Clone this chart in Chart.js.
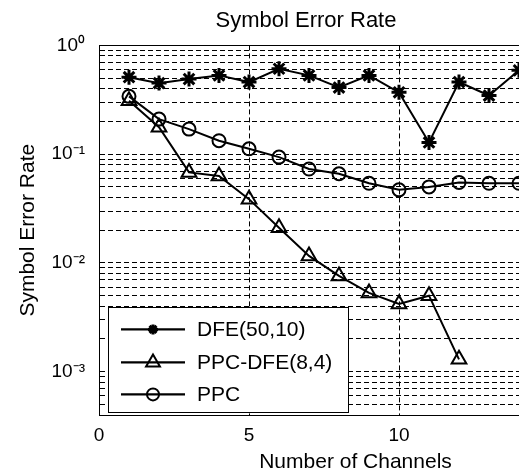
<!DOCTYPE html>
<html><head><meta charset="utf-8">
<script src="https://cdn.jsdelivr.net/npm/chart.js@4/dist/chart.umd.min.js"></script>
<style>html,body{margin:0;padding:0;background:#fff;overflow:hidden;width:519px;height:476px}</style>
</head><body>
<canvas id="c" width="612" height="476"></canvas>
<script>
const channels = [1,2,3,4,5,6,7,8,9,10,11,12,13,14];
const dfe    = [0.51,0.45,0.49,0.53,0.46,0.61,0.53,0.41,0.53,0.37,0.128,0.46,0.346,0.59];
const ppcDfe = [0.31,0.177,0.068,0.063,0.0386,0.0211,0.0116,0.0076,0.0053,0.0042,0.0050,0.0013,null,null];
const ppc    = [0.34,0.21,0.17,0.133,0.112,0.094,0.073,0.066,0.054,0.047,0.050,0.055,0.054,0.054];
const seriesNames = ['DFE(50,10)','PPC-DFE(8,4)','PPC'];
const seriesMarkers = ['star','triangle','circle'];
const xTickValues = [0,5,10,15];
const yDecades = [1e-4,1e-3,1e-2,1e-1,1];
const yMinorSteps = [2,3,4,5,6,7,8,9];
const yMin = 4e-4, yMax = 1;

const FONT = '"Liberation Sans", Arial, sans-serif';
const sup = {'0':'\u2070','1':'\u00B9','2':'\u00B2','3':'\u00B3','4':'\u2074','-':'\u207B'};

function yTickList(){
  const out = [];
  yDecades.forEach(d => {
    [1, ...yMinorSteps].forEach(k => {
      const v = +(d*k).toPrecision(6);
      if (v >= yMin*0.9999 && v <= yMax*1.0001) out.push({value: v});
    });
  });
  return out;
}

function mk(name, data, style, radius, bw){
  return {
    label: name,
    data: channels.map((c,i) => ({x: c, y: data[i]})),
    borderColor: '#000', backgroundColor: 'rgba(0,0,0,0)',
    borderWidth: 2, pointStyle: style, pointRadius: radius,
    pointBorderWidth: bw, pointBorderColor: '#000', pointBackgroundColor: 'rgba(0,0,0,0)',
    spanGaps: false, tension: 0
  };
}

function drawMarker(ctx, style, x, y, r){
  ctx.beginPath();
  if (style === 'star'){
    const d = r*Math.SQRT1_2;
    ctx.moveTo(x-r,y); ctx.lineTo(x+r,y);
    ctx.moveTo(x,y-r); ctx.lineTo(x,y+r);
    ctx.moveTo(x-d,y-d); ctx.lineTo(x+d,y+d);
    ctx.moveTo(x-d,y+d); ctx.lineTo(x+d,y-d);
  } else if (style === 'triangle'){
    const s = Math.sin(2*Math.PI/3)*r;
    ctx.moveTo(x, y-r); ctx.lineTo(x+s, y+r/2); ctx.lineTo(x-s, y+r/2); ctx.closePath();
  } else {
    ctx.arc(x, y, r, 0, Math.PI*2);
  }
  ctx.stroke();
}

const framePlugin = {
  id: 'frame',
  beforeDatasetsDraw(chart){
    const {ctx, chartArea: a} = chart;
    ctx.save(); ctx.strokeStyle = '#000'; ctx.lineWidth = 1;
    ctx.strokeRect(Math.round(a.left)+0.5, Math.round(a.top)+0.5, a.right-a.left, Math.round(a.bottom-a.top));
    ctx.restore();
  },
  afterDraw(chart){
    const {ctx, chartArea: a} = chart;
    const bx = a.left + 9, by = a.top + 262, bw = 240, bh = 105;
    ctx.save();
    ctx.fillStyle = '#fff'; ctx.fillRect(bx, by, bw, bh);
    ctx.strokeStyle = '#000'; ctx.lineWidth = 1;
    ctx.strokeRect(Math.round(bx)+0.5, Math.round(by)+0.5, bw, bh);
    const rows = [22, 55, 87];
    const mr = [5, 8, 6];
    const mw = [3, 2, 2];
    ctx.font = '21px ' + FONT; ctx.textBaseline = 'middle'; ctx.textAlign = 'left';
    seriesNames.forEach((n, i) => {
      const y = by + rows[i];
      ctx.lineWidth = 2.3; ctx.strokeStyle = '#000';
      ctx.beginPath(); ctx.moveTo(bx+13, y); ctx.lineTo(bx+77, y); ctx.stroke();
      ctx.lineWidth = mw[i];
      drawMarker(ctx, seriesMarkers[i], bx+45, y, mr[i]);
      ctx.fillStyle = '#000'; ctx.fillText(n, bx+89, y+1);
    });
    ctx.restore();
  }
};

new Chart(document.getElementById('c'), {
  type: 'line',
  data: { datasets: [
    mk(seriesNames[0], dfe, seriesMarkers[0], 7.5, 3),
    mk(seriesNames[1], ppcDfe, seriesMarkers[1], 8.5, 2),
    mk(seriesNames[2], ppc, seriesMarkers[2], 6.5, 2)
  ]},
  options: {
    responsive: false, animation: false, devicePixelRatio: 1,
    layout: { autoPadding: false, padding: { left: 0, right: 0, top: 0, bottom: 0 } },
    plugins: {
      legend: { display: false }, tooltip: { enabled: false },
      title: { display: true, text: 'Symbol Error Rate', color: '#000',
        font: { family: FONT, size: 22, weight: 'normal' }, padding: { top: 8, bottom: 11 } }
    },
    scales: {
      x: {
        type: 'linear', min: 0, max: 17.1,
        afterBuildTicks: s => { s.ticks = xTickValues.map(v => ({value: v})); },
        afterFit: s => { s.height = 61; s.paddingLeft = 0; s.paddingRight = 0; },
        ticks: { color: '#000', font: { family: FONT, size: 19 }, padding: 9, maxRotation: 0 },
        grid: { color: '#000', lineWidth: 1, drawTicks: false },
        border: { display: true, color: '#000', width: 1, dash: [5,3] },
        title: { display: true, text: 'Number of Channels', color: '#000',
          font: { family: FONT, size: 21 }, padding: { top: 0, bottom: 1 } }
      },
      y: {
        type: 'logarithmic', min: yMin, max: yMax,
        afterBuildTicks: s => { s.ticks = yTickList(); },
        afterFit: s => { s.width = 99; s.paddingTop = 0; s.paddingBottom = 0; },
        ticks: { color: '#000', font: { family: FONT, size: 19 }, padding: 14, autoSkip: false,
          callback: v => {
            const e = Math.log10(v);
            if (Math.abs(e - Math.round(e)) > 1e-6) return '';
            return '10' + String(Math.round(e)).split('').map(c => sup[c]).join('');
          } },
        grid: { color: '#000', lineWidth: 1, drawTicks: false },
        border: { display: true, color: '#000', width: 1, dash: [5,3] },
        title: { display: true, text: 'Symbol Error Rate', color: '#000',
          font: { family: FONT, size: 21 }, padding: { top: 16, bottom: 0 } }
      }
    }
  },
  plugins: [framePlugin]
});
</script>
</body></html>
